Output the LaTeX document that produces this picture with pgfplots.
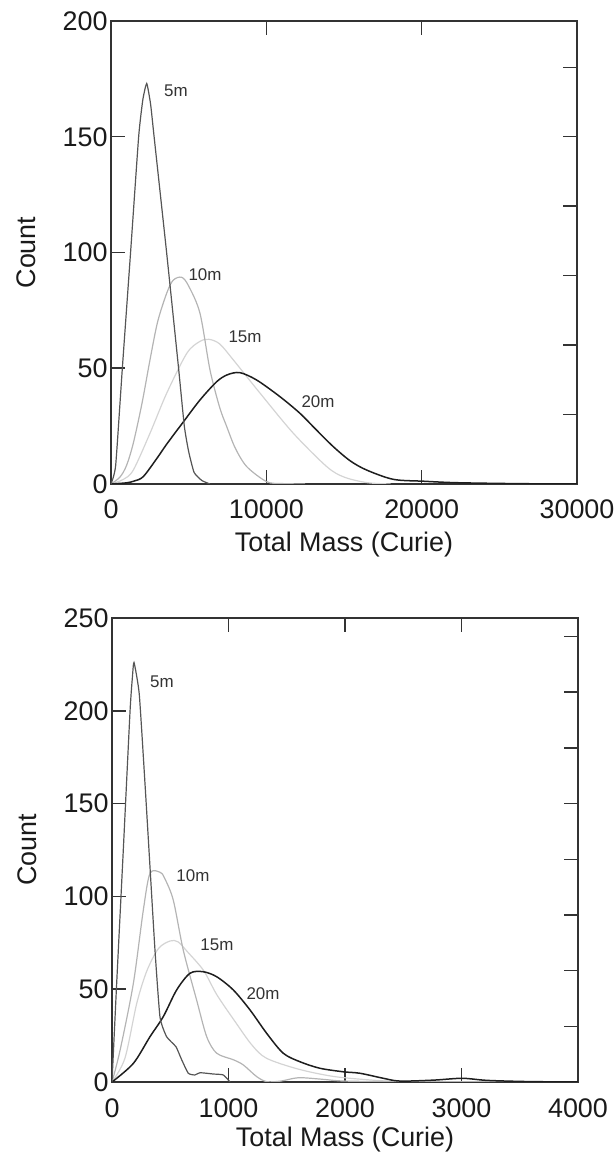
\documentclass[border=0pt]{standalone}
\usepackage{fontspec}
\setmainfont{Liberation Sans}
\usepackage{pgfplots}
\pgfplotsset{compat=1.18}
\definecolor{axc}{HTML}{333333}
\definecolor{cfive}{HTML}{555555}
\definecolor{cten}{HTML}{B4B4B4}
\definecolor{cfif}{HTML}{D4D4D4}
\definecolor{ctw}{HTML}{1E1E1E}
\definecolor{txt}{HTML}{1A1A1A}
\tikzset{cl/.style={font=\fontsize{17}{20}\selectfont, text=axc}}
\pgfplotsset{
  base/.style={scale only axis, width=466bp, anchor=south west,
    xmin=0, ymin=0, tick align=inside, major tick length=14bp,
    axis line style={line width=1.5bp, draw=axc},
    every tick/.style={line width=1.5bp, draw=axc},
    /pgf/number format/1000 sep={}, /pgf/number format/assume math mode=true,
    scaled x ticks=false, scaled y ticks=false,
    tick label style={font=\fontsize{27}{31}\selectfont, text=txt},
    xticklabel style={anchor=base, yshift=-35bp},
    every axis y label/.style={at={(rel axis cs:0,0.5)}, xshift=-85bp, rotate=90, anchor=center,
      font=\fontsize{27}{31}\selectfont, text=txt},
  },
  over/.style={scale only axis, width=466bp, anchor=south west,
    xmin=0, ymin=0, tick align=inside, major tick length=14bp,
    scaled x ticks=false, scaled y ticks=false,
    axis line style={draw=none},
    every tick/.style={line width=1.5bp, draw=axc},
    xticklabels={}, yticklabels={}, xtick pos=top, ytick pos=right,
  },
}
\begin{document}
\begin{tikzpicture}
\useasboundingbox (0bp,0bp) rectangle (615bp,1156bp);
% ---------------- top plot
\begin{axis}[base, at={(111bp,672bp)}, height=463bp, xmax=30000, ymax=200,
  xtick={0,10000,20000,30000}, ytick={0,50,100,150,200},
  xtick pos=bottom, ytick pos=left,
  xlabel={Total Mass (Curie)}, ylabel={Count},
  every axis x label/.style={at={(rel axis cs:0.5,0)}, anchor=base, yshift=-68bp,
    font=\fontsize{27}{31}\selectfont, text=txt}]
\addplot[cfif, line width=1.2bp, smooth, tension=0.5] coordinates {
(0,0) (800,2) (1435,6) (2510,21.9) (3585,39.2) (4875,56.4) (5700,61.5) (6300,62.5) (7000,60.5)
(7875,53.6) (9600,39.2) (11740,21.9) (13890,7.5) (15000,3) (16465,0.6) (18000,0)};
\addplot[cten, line width=1.2bp, smooth, tension=0.5] coordinates {
(0,0) (580,3) (1000,8) (1435,17.6) (2000,35) (2510,53.6) (3000,70) (3585,82.4) (4000,88)
(4550,89.3) (5000,85.5) (5730,73.7) (6375,49.2) (7000,33) (7450,24.8) (8000,15.5) (8740,7.5)
(10020,1) (11000,0.2) (12500,0)};
\addplot[ctw, line width=1.5bp, smooth, tension=0.5] coordinates {
(0,0) (1000,0.5) (1500,1.3) (2080,3.2) (3000,11.5) (3585,17.2) (4655,26.8) (5730,36.3) (6805,44.2)
(7500,47.2) (8300,48.1) (9380,44.9) (10880,37.7) (12170,30.5) (13200,23.5) (14315,16.1)
(15400,10) (16465,6) (18180,2) (20110,1.2) (22000,0.6) (24400,0.3) (27000,0.1) (30000,0)};
\addplot[cfive, line width=1.2bp, smooth, tension=0.3] coordinates {
(0,0) (300,8) (730,50) (1260,100) (1780,150) (2050,166) (2300,173) (2550,164) (2775,150)
(3580,100) (4350,50) (4720,25) (5000,14) (5350,5) (5850,1.5) (6375,0)};
\node[cl] at (axis cs:4185,169.8) {5m};
\node[cl] at (axis cs:6052,90.3) {10m};
\node[cl] at (axis cs:8627,63.5) {15m};
\node[cl] at (axis cs:13327,35.4) {20m};
\end{axis}
\begin{axis}[over, at={(111bp,672bp)}, height=463bp, xmax=30000, ymax=200,
  xtick={10000,20000}, ytick={30,60,90,120,150,180}]
\end{axis}
% ---------------- bottom plot
\begin{axis}[base, at={(112bp,74bp)}, height=464bp, xmax=4000, ymax=250,
  xtick={0,1000,2000,3000,4000}, ytick={0,50,100,150,200,250},
  xtick pos=bottom, ytick pos=left,
  xlabel={Total Mass (Curie)}, ylabel={Count},
  every axis x label/.style={at={(rel axis cs:0.5,0)}, anchor=base, yshift=-64bp,
    font=\fontsize{27}{31}\selectfont, text=txt}]
\addplot[cfif, line width=1.2bp, smooth, tension=0.5] coordinates {
(0,0) (111,12.8) (213,42.5) (300,60) (400,72) (500,76) (567,75.5) (650,70) (787,60) (900,47)
(1056,32.6) (1200,20) (1326,12.8) (1596,7) (1900,3) (2237,1) (2500,0.2) (3000,0)};
\addplot[cten, line width=1.2bp, smooth, tension=0.5] coordinates {
(0,0) (69,17) (183,53) (269,92.7) (326,112.4) (412,113) (450,110) (526,98) (612,71) (727,44)
(813,24.4) (899,15.5) (1041,12) (1127,9.2) (1242,2.9) (1328,0.2) (1450,0.5) (1600,2.3)
(1800,1.5) (2000,0.5) (2500,0.2) (4000,0)};
\addplot[ctw, line width=1.5bp, smooth, tension=0.5] coordinates {
(0,0) (183,10) (326,24.4) (440,35.2) (555,49.6) (670,58.6) (784,59.4) (899,56.7) (1041,49.6)
(1185,38.8) (1328,26.2) (1470,15.5) (1614,10.9) (1785,7.4) (1986,5.5) (2129,4.7) (2329,2)
(2472,0.5) (2758,1) (3002,2) (3187,1) (3330,0.6) (3600,0.2) (4000,0)};
\addplot[cfive, line width=1.2bp, smooth, tension=0.3] coordinates {
(0,0) (40,53) (97,125) (155,200) (175,218) (189,226) (234,209) (283,161) (326,116) (369,71)
(412,35) (469,24.4) (549,19) (598,12) (655,4.7) (712,3.8) (755,5) (870,4.3) (955,3.8) (1013,0)};
\node[cl] at (axis cs:429,215.5) {5m};
\node[cl] at (axis cs:695,111) {10m};
\node[cl] at (axis cs:901,73.8) {15m};
\node[cl] at (axis cs:1296,47.4) {20m};
\end{axis}
\begin{axis}[over, at={(112bp,74bp)}, height=464bp, xmax=4000, ymax=250,
  xtick={1000,2000,3000}, ytick={30,60,90,120,150,180,210,240}]
\end{axis}
\end{tikzpicture}
\end{document}
